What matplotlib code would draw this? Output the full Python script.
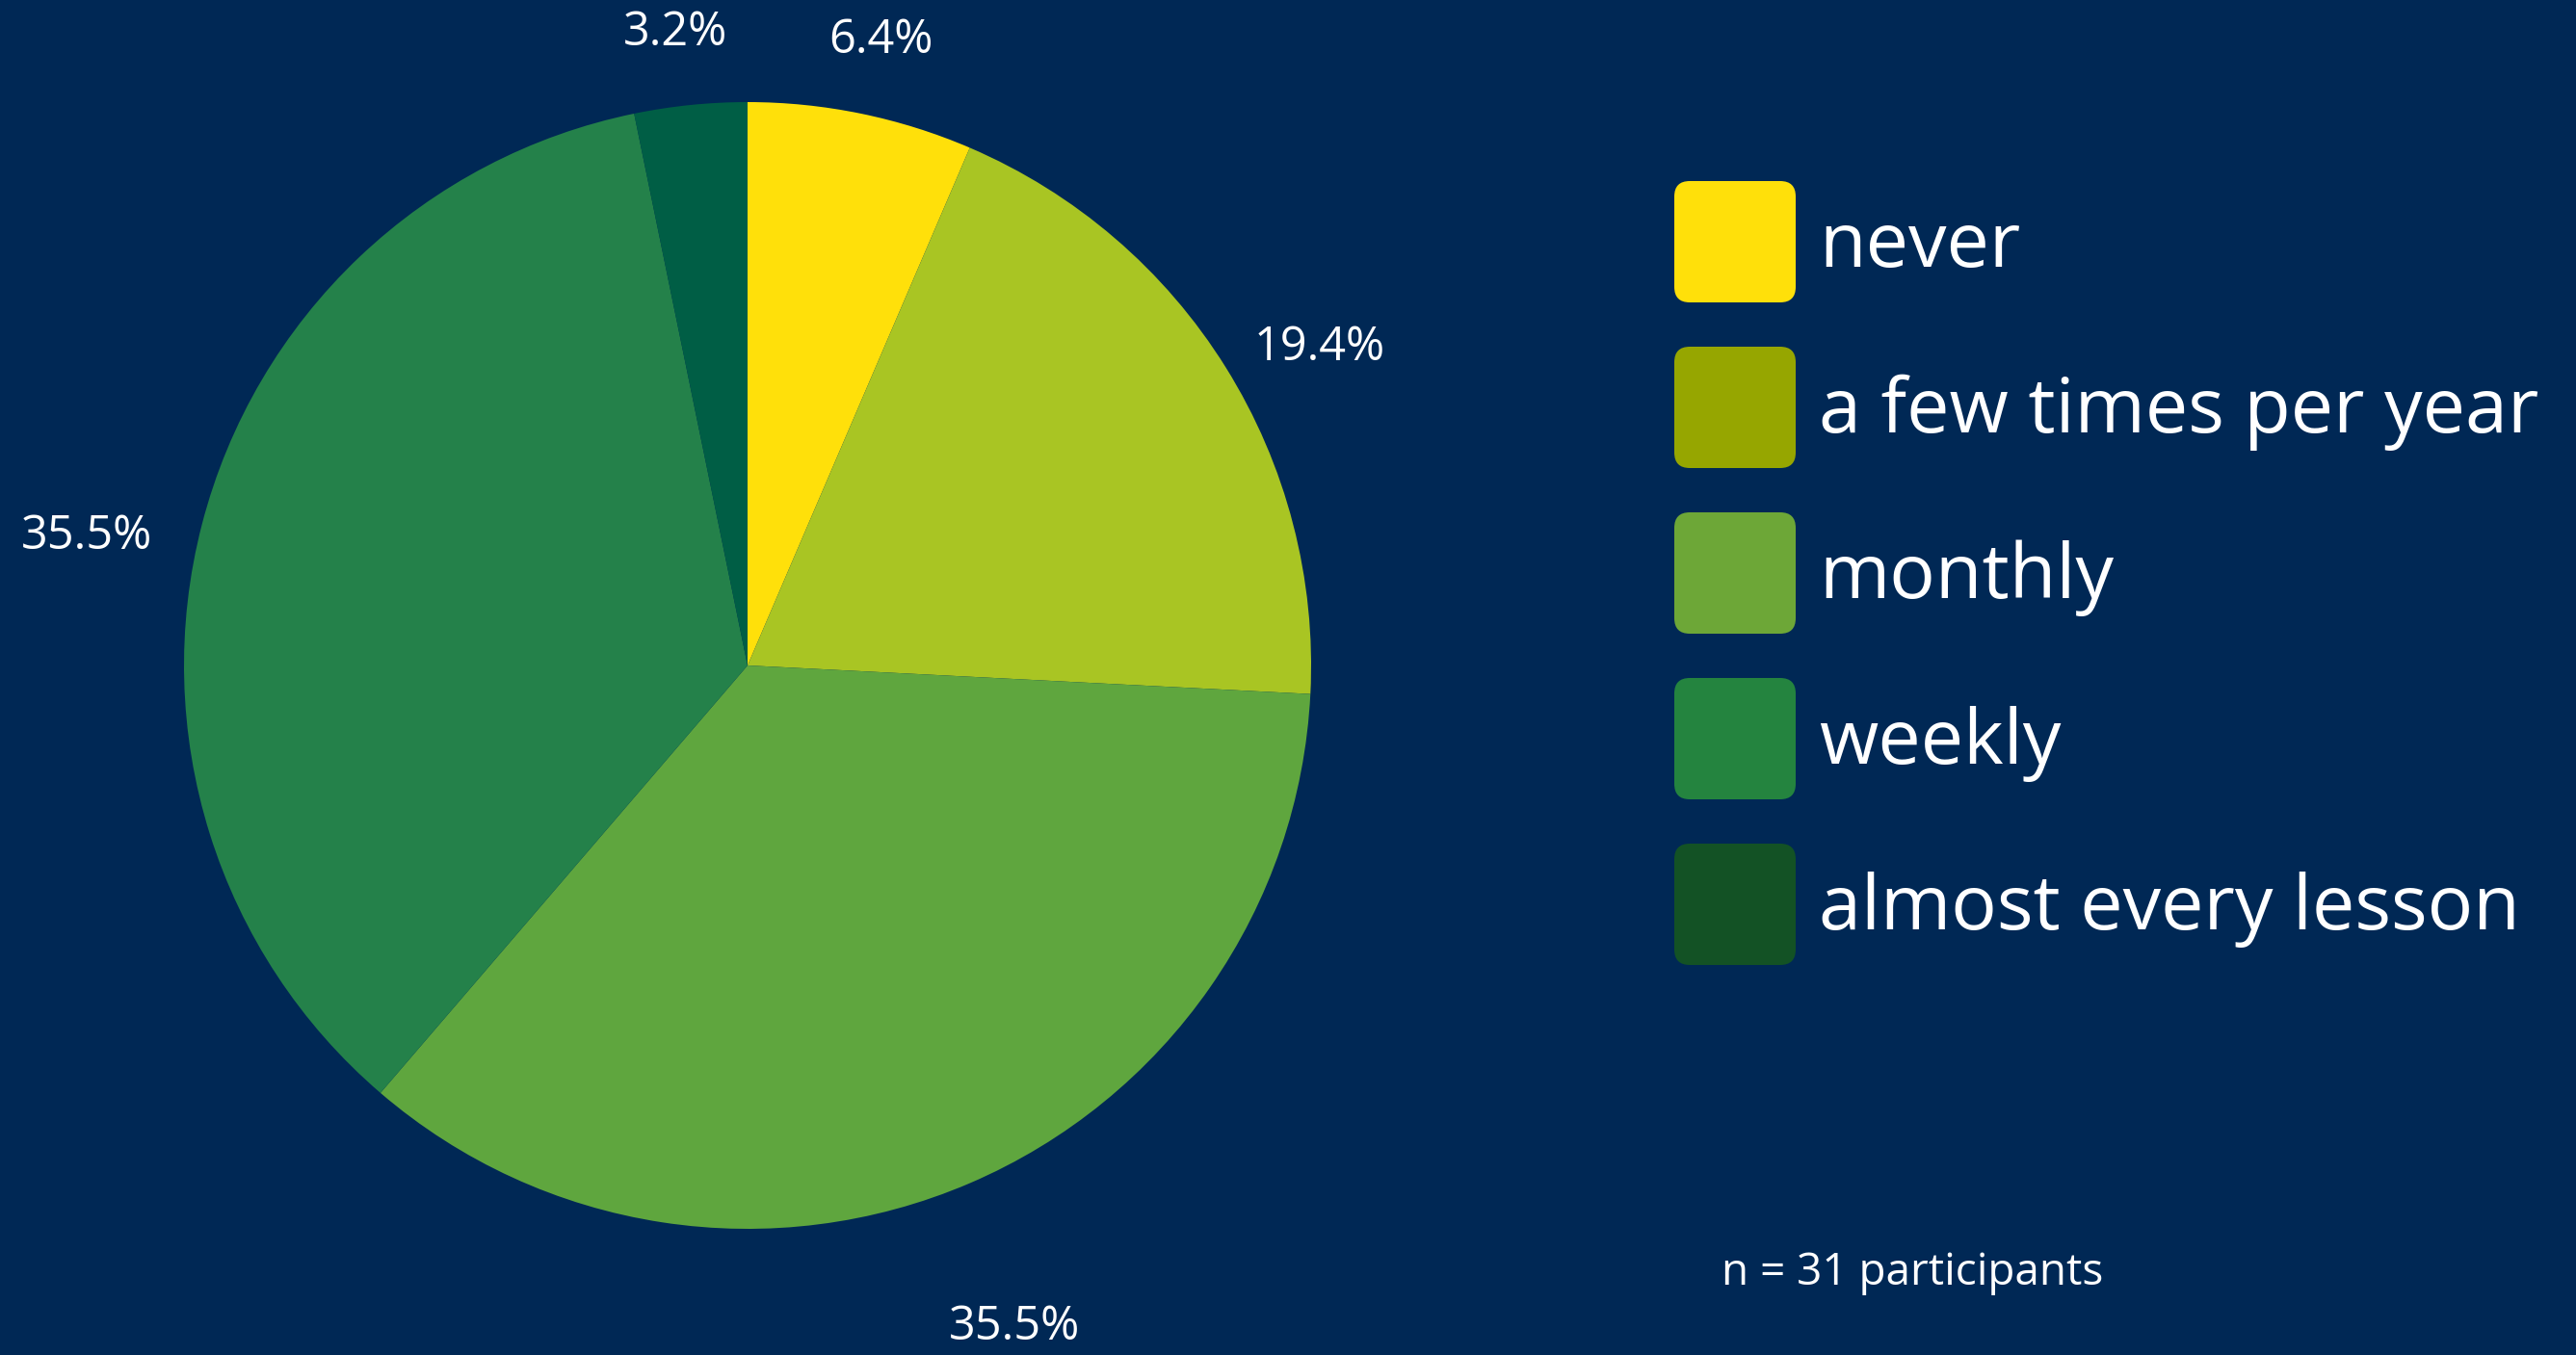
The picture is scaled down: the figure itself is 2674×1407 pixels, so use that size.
import numpy as np
import matplotlib.pyplot as plt
from matplotlib.patches import FancyBboxPatch

categories = ["never", "a few times per year", "monthly", "weekly", "almost every lesson"]
counts = [2, 6, 11, 11, 1]
pct_labels = ["6.4%", "19.4%", "35.5%", "35.5%", "3.2%"]
n_total = 31

pie_colors = ["#FFE00A", "#A9C523", "#5FA63E", "#24814A", "#005E45"]
legend_colors = ["#FFE00A", "#96A600", "#6DA737", "#24843F", "#135225"]
# label radius (in pie radii) and small angular nudge (deg) for each slice label
label_dist = [1.133, 1.16, 1.266, 1.194, 1.13]
label_nudge = [-0.4, -2.9, -1.3, 3.5, 0.7]

bg = "#002855"
plt.rcParams['font.family'] = ['Open Sans', 'DejaVu Sans']

W, H = 2674, 1407
fig = plt.figure(figsize=(W / 100, H / 100), dpi=100, facecolor=bg)

# pie axes, centred at (776, 691) px with radius ~585 px
cx, cy, r = 776, 691, 585
ax = fig.add_axes([(cx - r) / W, (H - cy - r) / H, 2 * r / W, 2 * r / H])
ax.set_facecolor(bg)

wedges, _ = ax.pie(counts, colors=pie_colors, startangle=90, counterclock=False,
                   radius=1, wedgeprops=dict(linewidth=0))
ax.set_xlim(-1, 1)
ax.set_ylim(-1, 1)
ax.axis("off")

for w, lab, d, nd in zip(wedges, pct_labels, label_dist, label_nudge):
    ang = np.deg2rad((w.theta1 + w.theta2) / 2 + nd)
    ax.text(d * np.cos(ang), d * np.sin(ang), lab, color="white", fontsize=35,
            ha="center", va="center", clip_on=False)

# legend with rounded swatches
box = 126
x0 = 1738
for i, (name, col) in enumerate(zip(categories, legend_colors)):
    top = 188 + i * 172
    ycen = H - (top + box / 2)
    p = FancyBboxPatch((x0 / W, (H - top - box) / H), box / W, box / H,
                       boxstyle="round,pad=0,rounding_size=0.006",
                       transform=fig.transFigure, facecolor=col, edgecolor="none",
                       mutation_aspect=W / H)
    fig.patches.append(p)
    fig.text(1888 / W, (ycen - 26) / H, name, color="white", fontsize=57,
             ha="left", va="baseline")

fig.text(1787 / W, (H - 1322) / H, "n = " + str(n_total) + " participants",
         color="white", fontsize=33, ha="left", va="center")

fig.savefig("out.png", dpi=100, facecolor=bg)
